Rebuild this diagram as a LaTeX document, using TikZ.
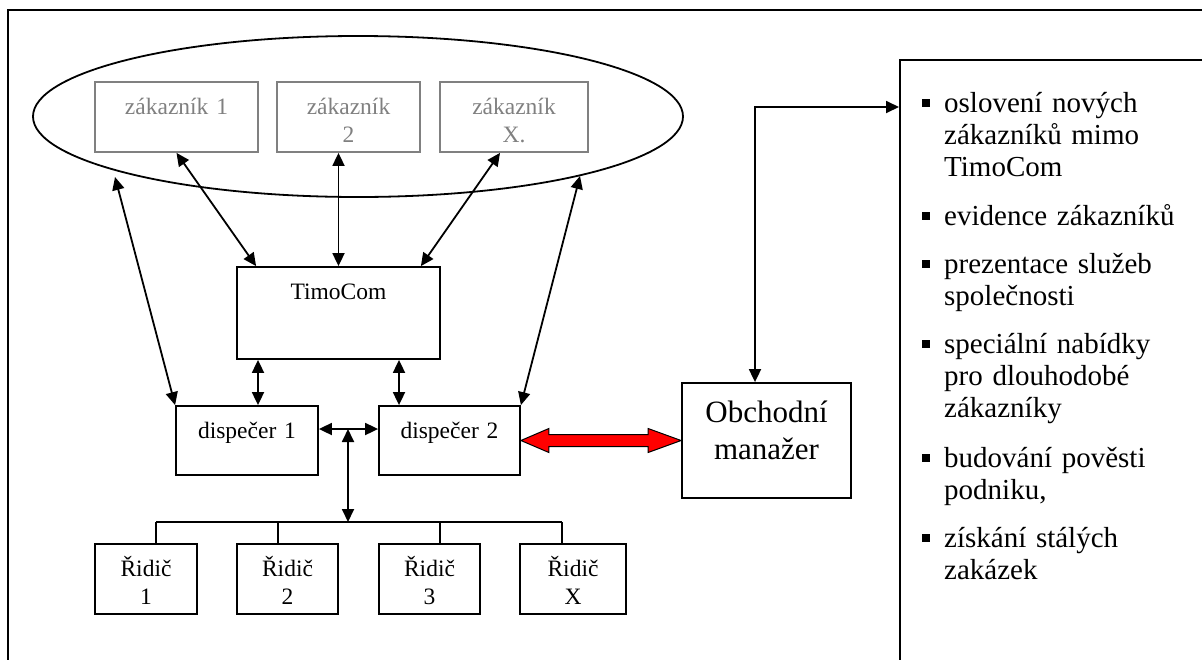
\documentclass[tikz,border=0pt]{standalone}
\usepackage{fontspec}
\setmainfont{Liberation Serif}
\usetikzlibrary{arrows.meta,shapes.geometric,calc}
\definecolor{custgray}{RGB}{128,128,128}
\newcommand{\boxfont}{\fontsize{23.5}{28}\selectfont}
\newcommand{\mgrfont}{\fontsize{31}{37}\selectfont}
\newcommand{\listfont}{\fontsize{29}{32}\selectfont}
\hyphenpenalty=10000
\exhyphenpenalty=10000

\begin{document}
\begin{tikzpicture}[x=1pt, y=-1pt,
    box/.style={draw, line width=1.8pt, inner sep=0pt},
    custbox/.style={box, draw=custgray, minimum height=70},
    boxtext/.style={font=\boxfont, text width=200pt, align=center, anchor=base, inner sep=0pt, yshift=-#1},
    boxtext/.default=33pt,
    custtext/.style={boxtext, text=custgray},
    listitem/.style={anchor=base west, text width=240pt, align=left, inner sep=0pt, font=\listfont},
    dbl/.style={{Triangle[length=13pt,width=12pt]}-{Triangle[length=13pt,width=12pt]}, line width=1.8pt},
    wire/.style={line width=1.8pt},
]
    \useasboundingbox (0,0) rectangle (1202,659);
    \clip (0,0) rectangle (1202,659);
    % frame and list panel run off the page
    \draw[line width=2.5pt] (8,10) rectangle (1260,720);
    \node[box, anchor=north west, minimum width=400, minimum height=700] (panel) at (899,59) {};

    % customers
    \node[draw, ellipse, line width=1.8pt, minimum width=650, minimum height=161] (cust) at (358,116.5) {};
    \foreach \i/\xx/\ww/\txt in {1/176.5/163/{zákazník 1}, 2/348.5/143/{zákazník\\2}, 3/514/148/{zákazník\\X.}}{
        \node[custbox, minimum width=\ww, label={[custtext]north:\txt}] (c\i) at (\xx,117) {};
    }

    \node[box, minimum width=203, minimum height=92, label={[boxtext]north:TimoCom}] (timo) at (338.5,313) {};
    \node[box, minimum width=142, minimum height=69, label={[boxtext]north:dispečer 1}] (d1) at (247,440.5) {};
    \node[box, minimum width=141, minimum height=69, label={[boxtext]north:dispečer 2}] (d2) at (449.5,440.5) {};
    \node[box, minimum width=169, minimum height=115, label={[boxtext=40pt, font=\mgrfont]north:Obchodní\\manažer}] (mgr) at (766.5,440.5) {};

    % drivers
    \foreach \i/\xx/\ww/\num in {1/146/102/1, 2/287.5/101/2, 3/429.5/101/3, 4/573/106/X}{
        \node[box, minimum width=\ww, minimum height=70, label={[boxtext]north:Řidič\\\num}] (r\i) at (\xx,579) {};
    }
    \foreach \i/\bx in {1/156, 2/278, 3/440, 4/562}{
        \coordinate (b\i) at (\bx,522);
        \draw[wire] (b\i) -- (b\i |- r\i.north);
    }
    \draw[wire] (b1) -- (b4);

    \coordinate (hub) at (348,429);
    \draw[dbl] (hub -| d1.east) -- (hub -| d2.west);
    \draw[dbl] (hub) -- (hub |- b1);

    \draw[dbl] (c1.south) -- ([xshift=20pt]timo.north west);
    \draw[dbl] (c2.south -| timo.north) -- (timo.north);
    \draw[dbl] ([xshift=-14pt]c3.south) -- ([xshift=-20pt]timo.north east);

    \coordinate (k1) at (258,0);
    \coordinate (k2) at (399,0);
    \draw[dbl] (timo.south -| k1) -- (d1.north -| k1);
    \draw[dbl] (timo.south -| k2) -- (d2.north -| k2);

    \coordinate (eL) at (115,177);
    \coordinate (eR) at (580,176);
    \draw[dbl] (eL) -- (d1.north west);
    \draw[dbl] (eR) -- (d2.north east);

    \coordinate (mk) at (755,107);
    \draw[dbl] (mgr.north -| mk) |- (panel.west |- mk);

    % red link dispecer 2 <-> manager
    \draw[line width=1pt, fill=red] let \p1=(d2.east), \p2=(mgr.west) in
        (\x1,\y1) -- (\x1+28pt,\y1+12pt) -- (\x1+28pt,\y1+6pt) -- (\x2-33pt,\y1+6pt)
        -- (\x2-33pt,\y1+12pt) -- (\x2,\y1) -- (\x2-33pt,\y1-12pt) -- (\x2-33pt,\y1-6pt)
        -- (\x1+28pt,\y1-6pt) -- (\x1+28pt,\y1-12pt) -- cycle;

    % list of tasks
    \foreach \i/\yy/\txt in {1/112/{oslovení nových zákazníků mimo TimoCom}, 2/225/{evidence zákazníků},
        3/273/{prezentace služeb společnosti}, 4/353/{speciální nabídky pro dlouhodobé zákazníky},
        5/467/{budování pověsti podniku,}, 6/547/{získání stálých zakázek}}{
        \node[listitem] (item\i) at (944,\yy) {\txt};
        \fill ([xshift=-22pt, yshift=5pt]item\i.base west) rectangle ++(8pt,8pt);
    }
\end{tikzpicture}
\end{document}
